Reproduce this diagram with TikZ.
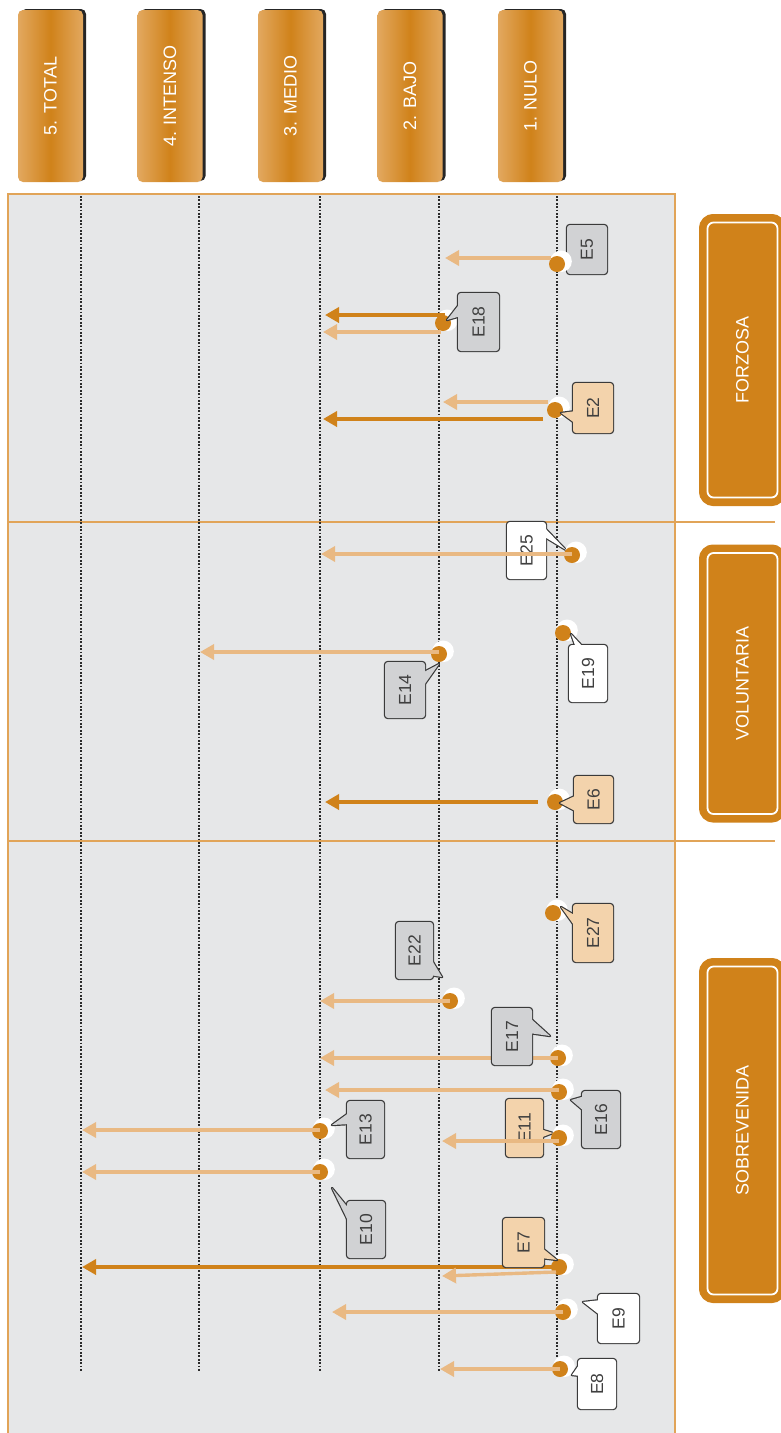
\documentclass[tikz,border=0pt]{standalone}
\usepackage{fontspec}
\setmainfont{Liberation Sans}
\usetikzlibrary{shadows,arrows.meta,calc}
\definecolor{dorange}{HTML}{D0821A}
\definecolor{lorange}{HTML}{E9B983}
\definecolor{hlight}{HTML}{E2A85F}
\definecolor{panelgray}{HTML}{E6E7E8}
\definecolor{panelline}{HTML}{E1A458}
\definecolor{peach}{HTML}{F3D3AC}
\definecolor{lblgray}{HTML}{D1D2D4}
\definecolor{lblline}{HTML}{3A3A3A}
\definecolor{lbltext}{HTML}{3F3F3F}
\definecolor{dotline}{HTML}{2B2B2B}
\tikzset{
  levelbox/.style={rectangle, rounded corners=5pt,
    minimum width=65pt, minimum height=172pt, inner sep=0pt,
    left color=hlight, right color=hlight, middle color=dorange,
    drop shadow={shadow xshift=3pt, shadow yshift=1pt, fill=black!85, opacity=1},
    text=white, font=\fontsize{18}{20}\selectfont},
  catbox/.style={rectangle, rounded corners=6pt, minimum width=70pt, inner sep=0pt,
    fill=dorange, draw=white, line width=1.8pt, preaction={draw=dorange, line width=17pt},
    text=white, font=\fontsize{18}{20}\selectfont},
  levelline/.style={draw=dotline, line width=1.6pt, dash pattern=on 1.7pt off 1.7pt},
  sepline/.style={draw=panelline, line width=1.6pt},
  evdot/.style={circle, fill=dorange, minimum size=16pt, inner sep=0pt,
    drop shadow={shadow xshift=3pt, shadow yshift=2pt, shadow scale=1.35, fill=white, opacity=1}},
  larrow/.style={draw=lorange, line width=3.4pt, -{Triangle[length=14pt, width=15pt]}},
  darrow/.style={draw=dorange, line width=3.8pt, -{Triangle[length=14pt, width=15pt]}},
  lblbox/.style={rectangle, rounded corners=3pt,
    inner sep=0pt, text=lbltext, font=\fontsize{17.5}{19}\selectfont},
  tailout/.style={draw=lblline, fill=lblline, line width=2.4pt, line join=round},
}
% callout: name, x, y, w, h, fill, tail path, text
\newcommand\evcallout[8]{%
  \node[lblbox, draw=lblline, fill=lblline, line width=2.4pt, minimum width=#4pt, minimum height=#5pt] (#1o) at (#2,#3) {};
  \path[tailout] #7;
  \fill[#6] #7;
  \node[lblbox, fill=#6, minimum width=#4pt, minimum height=#5pt] (#1) at (#2,#3) {\rotatebox{90}{#8}};
}
\newcommand\evplainbox[7]{%
  \node[lblbox, draw=lblline, fill=lblline, line width=2.4pt, minimum width=#4pt, minimum height=#5pt] (#1o) at (#2,#3) {};
  \node[lblbox, fill=#6, minimum width=#4pt, minimum height=#5pt] (#1) at (#2,#3) {\rotatebox{90}{#7}};
}
\begin{document}
\begin{tikzpicture}[x=1pt, y=-1pt]
\useasboundingbox (0,0) rectangle (781,1433);
\clip (0,0) rectangle (781,1433);

% level headers
\node[levelbox] (lv5) at (50.5,96) {\rotatebox{90}{5. TOTAL}};
\node[levelbox] (lv4) at (170,96) {\rotatebox{90}{4. INTENSO}};
\node[levelbox] (lv3) at (290.5,96) {\rotatebox{90}{3. MEDIO}};
\node[levelbox] (lv2) at (410,96) {\rotatebox{90}{2. BAJO}};
\node[levelbox] (lv1) at (530.5,96) {\rotatebox{90}{1. NULO}};

% panel
\path[fill=panelgray, sepline] (8,194) rectangle (675,1445);
\draw[sepline] (8,521.7) -- (775,521.7);
\draw[sepline] (8,841) -- (775,841);

% level lines
\foreach \lx in {81,199,320,439,557}{
  \draw[levelline] (\lx,196) -- (\lx,1372);
}

% category boxes
\node[catbox, minimum height=275pt] (forzosa) at (742.5,360) {\rotatebox{90}{FORZOSA}};
\node[catbox, minimum height=261pt] (voluntaria) at (742.5,683.5) {\rotatebox{90}{VOLUNTARIA}};
\node[catbox, minimum height=328pt] (sobrevenida) at (742.5,1130.5) {\rotatebox{90}{SOBREVENIDA}};

% callouts lying under dots and arrows
\evplainbox{e5}{587}{249.5}{40}{49}{lblgray}{E5}
\evcallout{e25}{526.5}{550.5}{39}{57}{white}{(541,524)--(566,550)--(543,536)--cycle}{E25}
\evcallout{e11}{524.5}{1128}{37}{58}{peach}{(540,1129)--(553,1133)--(540,1138)--cycle}{E11}

% event dots
\node[evdot] (d5) at (557,264) {};
\node[evdot] (d18) at (443,323) {};
\node[evdot] (d2) at (555,410) {};
\node[evdot] (d25) at (572,555) {};
\node[evdot] (d19) at (563,633) {};
\node[evdot] (d14) at (439,654) {};
\node[evdot] (d6) at (555,802) {};
\node[evdot] (d27) at (553,913) {};
\node[evdot] (d22) at (450,1001) {};
\node[evdot] (d17) at (558,1058) {};
\node[evdot] (d16) at (559,1092) {};
\node[evdot] (d11) at (559,1138) {};
\node[evdot] (d13) at (320,1131) {};
\node[evdot] (d10) at (320,1172) {};
\node[evdot] (d7) at (559,1267) {};
\node[evdot] (d9) at (563,1312) {};
\node[evdot] (d8) at (560,1369) {};

% arrow targets
\coordinate (t5) at (445,258);
\coordinate (t18a) at (325,315);
\coordinate (t18b) at (323,332);
\coordinate (t2a) at (443,402);
\coordinate (t2b) at (323,419);
\coordinate (t25) at (321,554);
\coordinate (t14) at (200,652);
\coordinate (t6) at (325,802);
\coordinate (t22) at (320,1001);
\coordinate (t17) at (320,1058);
\coordinate (t16) at (325,1090);
\coordinate (t11) at (442,1141);
\coordinate (t13) at (82,1130);
\coordinate (t10) at (82,1172);
\coordinate (t7a) at (82,1267);
\coordinate (t7b) at (442,1276);
\coordinate (t9) at (332,1312);
\coordinate (t8) at (440,1369);

% arrows
\draw[larrow] ($(d5.west |- t5)+(2,0)$) -- (t5);
\draw[darrow] ($(d18.center |- t18a)+(2,0)$) -- (t18a);
\draw[larrow] ($(d18.center |- t18b)+(-2,0)$) -- (t18b);
\draw[larrow] ($(d2.west |- t2a)+(1,0)$) -- (t2a);
\draw[darrow] ($(d2.west |- t2b)+(-4,0)$) -- (t2b);
\draw[larrow] (d25.center |- t25) -- (t25);
\draw[larrow] (d14.center |- t14) -- (t14);
\draw[darrow] ($(d6.west |- t6)+(-9,0)$) -- (t6);
\draw[larrow] (d22.center |- t22) -- (t22);
\draw[larrow] (d17.center |- t17) -- (t17);
\draw[larrow] (d16.center |- t16) -- (t16);
\draw[larrow] (d11.center |- t11) -- (t11);
\draw[larrow] (d13.center |- t13) -- (t13);
\draw[larrow] (d10.center |- t10) -- (t10);
\draw[darrow] (d7.center |- t7a) -- (t7a);
\draw[larrow] ($(d7.center)+(-3,5)$) -- (t7b);
\draw[larrow] (d9.center |- t9) -- (t9);
\draw[larrow] (d8.center |- t8) -- (t8);

% remaining callouts
\evcallout{e18}{478.5}{322}{41}{58}{lblgray}{(461,302)--(447,320)--(461,316)--cycle}{E18}
\evcallout{e2}{593}{408}{40}{50}{peach}{(576,411)--(561,413)--(576,424)--cycle}{E2}
\evcallout{e19}{588}{673.5}{38}{57}{white}{(576,648)--(571,634)--(584,648)--cycle}{E19}
\evcallout{e14}{405}{690}{40}{56}{lblgray}{(422,673)--(439,664)--(422,688)--cycle}{E14}
\evcallout{e6}{593.5}{799.5}{39}{47}{peach}{(577,795)--(560,803)--(577,812)--cycle}{E6}
\evcallout{e27}{593}{933}{40}{58}{peach}{(576,916)--(561,907)--(576,928)--cycle}{E27}
\evcallout{e22}{414.5}{950.5}{37}{57}{lblgray}{(430,957)--(442,977)--(430,975)--cycle}{E22}
\evcallout{e17}{512}{1036.5}{40}{57}{lblgray}{(529,1017)--(550,1036)--(529,1033)--cycle}{E17}
\evcallout{e16}{601}{1119.5}{38}{57}{lblgray}{(585,1096)--(571,1100)--(585,1112)--cycle}{E16}
\evcallout{e13}{365.5}{1129.5}{37}{57}{lblgray}{(350,1112)--(332,1125)--(350,1124)--cycle}{E13}
\evcallout{e10}{366}{1229.5}{38}{57}{lblgray}{(350,1210)--(332,1188)--(350,1225)--cycle}{E10}
\evcallout{e7}{523.5}{1242.5}{41}{49}{peach}{(541,1247)--(557,1260)--(541,1258)--cycle}{E7}
\evcallout{e9}{618.5}{1318.5}{41}{49}{white}{(601,1300)--(583,1302)--(601,1316)--cycle}{E9}
\evcallout{e8}{597}{1384}{38}{50}{white}{(581,1362)--(572,1375)--(581,1376)--cycle}{E8}
\end{tikzpicture}
\end{document}
